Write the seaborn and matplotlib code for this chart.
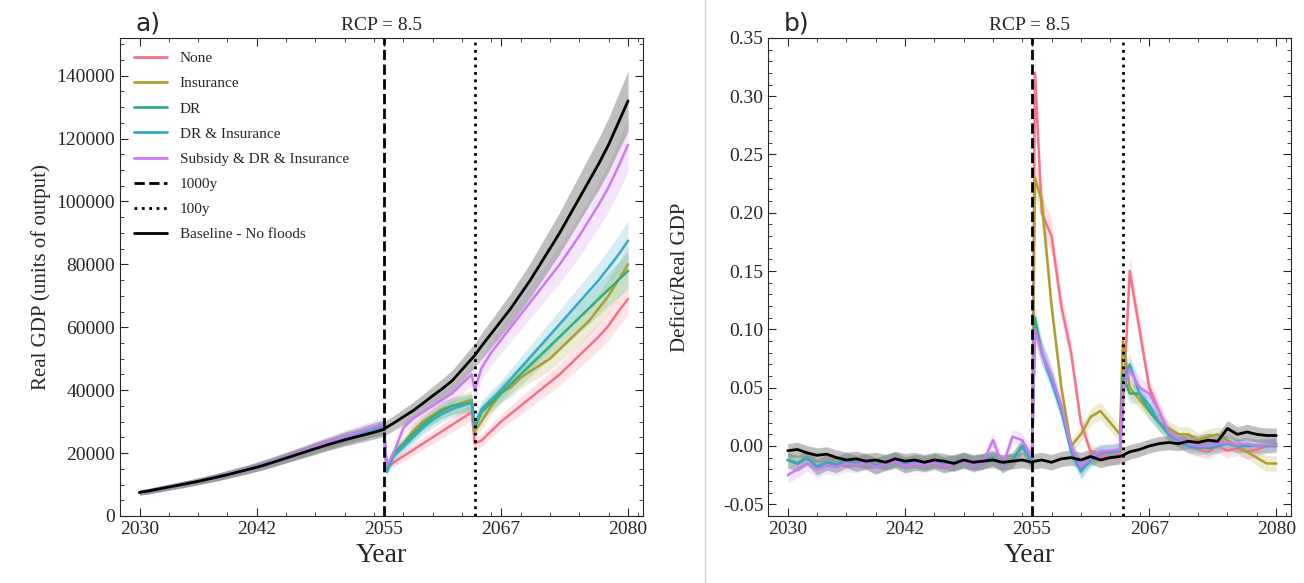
import numpy as np
import pandas as pd
import seaborn as sns
import matplotlib.pyplot as plt
from matplotlib.lines import Line2D

# time grid: yearly, with an extra point just after each flood
years = list(range(2030, 2056)) + [2055.3] + list(range(2056, 2065)) + [2064.3] + list(range(2065, 2081))

base_gdp = [7500, 8000, 8600, 9200, 9800, 10400, 11000, 11700, 12400, 13100, 13900, 14700, 15500,
            16400, 17400, 18400, 19400, 20400, 21400, 22400, 23300, 24200, 25000, 25800, 26600, 27500,
            28200, 29500, 31500, 33500, 35800, 38200, 40500, 43000, 46500, 50000, 51000,
            54000, 58000, 62000, 66000, 70500, 75000, 80000, 85000, 90000, 95500, 101000, 106500,
            112000, 118000, 125000, 132000]
pre_gdp = [7400, 7900, 8500, 9100, 9700, 10300, 11000, 11700, 12400, 13200, 14000, 14800, 15700,
           16600, 17600, 18600, 19600, 20600, 21700, 22700, 23700, 24700, 25600, 26500, 27400, 28200]
none_gdp = pre_gdp + [15000, 17000, 19000, 21000, 23000, 25000, 27000, 29000, 31000, 33000, 23000,
                      24000, 27000, 30000, 32500, 35000, 37500, 40000, 42500, 45000, 48000, 51000,
                      54000, 57000, 60500, 65000, 69000]
ins_gdp = pre_gdp + [15500, 20000, 23000, 27000, 30000, 32000, 34000, 35000, 36000, 37000, 27000,
                     30000, 35000, 39000, 41000, 44000, 46000, 48000, 50000, 53000, 56000, 59000,
                     62000, 66000, 70000, 75000, 80000]
dr_gdp = pre_gdp + [14500, 20000, 23000, 26000, 29000, 31500, 33500, 35000, 35500, 36000, 28000,
                    33000, 36000, 39000, 42000, 45000, 48000, 51000, 54000, 57000, 60000, 63000,
                    66000, 69000, 72000, 75000, 78000]
drins_gdp = pre_gdp + [14000, 19000, 22000, 25000, 28000, 30500, 32500, 34000, 35000, 36000, 29000,
                       34000, 37000, 40000, 43500, 47000, 50500, 54000, 57500, 61000, 64500, 68000,
                       71500, 75000, 79000, 83000, 87500]
sub_gdp = [7400, 7900, 8500, 9100, 9700, 10400, 11100, 11800, 12500, 13300, 14100, 14900, 15800,
           16700, 17700, 18700, 19800, 20900, 22000, 23100, 24100, 25200, 26200, 27200, 28200, 29000,
           16000, 20000, 28000, 31000, 33000, 35000, 37000, 39000, 42000, 45000, 40000,
           47000, 52000, 56000, 60000, 64000, 68000, 72000, 76000, 80000, 84500, 89000, 94000,
           99000, 104500, 111000, 118000]

pre_def = [-0.012, -0.015, -0.010, -0.018, -0.014, -0.016, -0.012, -0.015, -0.013, -0.017, -0.014,
           -0.012, -0.016, -0.014, -0.015, -0.013, -0.016, -0.014, -0.012, -0.015, -0.013, -0.010,
           -0.016, -0.012, 0.000, -0.014]
base_def = [-0.004, -0.003, -0.006, -0.008, -0.007, -0.010, -0.012, -0.011, -0.013, -0.012, -0.014,
            -0.011, -0.013, -0.012, -0.014, -0.012, -0.013, -0.015, -0.012, -0.014, -0.013, -0.012,
            -0.014, -0.013, -0.012, -0.014, -0.013, -0.012, -0.014, -0.011, -0.010, -0.012, -0.009,
            -0.012, -0.010, -0.009, -0.008, -0.005, -0.003, 0.000, 0.002, 0.003, 0.002, 0.004,
            0.003, 0.005, 0.004, 0.015, 0.010, 0.012, 0.010, 0.009, 0.009]
none_def = pre_def + [0.32, 0.20, 0.18, 0.12, 0.08, 0.02, -0.005, -0.008, -0.010, -0.008, 0.03,
                      0.15, 0.10, 0.05, 0.03, 0.01, 0.005, 0.000, -0.003, -0.005, 0.000, -0.004,
                      -0.002, -0.005, -0.003, 0.000, 0.000]
ins_def = pre_def + [0.23, 0.21, 0.12, 0.05, 0.000, 0.010, 0.025, 0.030, 0.020, 0.010, 0.09,
                     0.05, 0.04, 0.03, 0.02, 0.015, 0.010, 0.010, 0.005, 0.008, 0.010, 0.005,
                     0.000, -0.005, -0.010, -0.015, -0.015]
dr_def = pre_def + [0.11, 0.08, 0.06, 0.03, 0.000, -0.020, -0.010, -0.005, -0.005, -0.003, 0.06,
                    0.045, 0.045, 0.03, 0.02, 0.010, 0.005, 0.000, 0.000, -0.002, 0.000, 0.003,
                    0.000, 0.001, 0.000, 0.000, 0.000]
drins_def = pre_def + [0.10, 0.08, 0.055, 0.03, -0.005, -0.022, -0.012, -0.006, -0.005, -0.004, 0.055,
                       0.07, 0.045, 0.035, 0.02, 0.010, 0.005, 0.000, -0.002, 0.000, 0.000, 0.002,
                       0.000, 0.000, 0.000, 0.000, 0.002]
sub_def = [-0.025, -0.020, -0.015, -0.020, -0.017, -0.018, -0.015, -0.016, -0.014, -0.018, -0.015,
           -0.013, -0.017, -0.015, -0.016, -0.014, -0.017, -0.015, -0.013, -0.016, -0.014, 0.005,
           -0.017, 0.008, 0.005, -0.010,
           0.10, 0.08, 0.06, 0.035, 0.000, -0.018, -0.010, -0.005, -0.004, -0.003, 0.05,
           0.065, 0.05, 0.045, 0.03, 0.012, 0.006, 0.002, 0.000, 0.000, 0.002, 0.003,
           0.001, 0.002, 0.000, 0.001, 0.001]

labels = ["None", "Insurance", "DR", "DR & Insurance", "Subsidy & DR & Insurance"]
gdp_series = [none_gdp, ins_gdp, dr_gdp, drins_gdp, sub_gdp]
def_series = [none_def, ins_def, dr_def, drins_def, sub_def]

sns.set_style("ticks")
plt.rcParams['font.family'] = ['Liberation Serif', 'DejaVu Serif']
colors = sns.color_palette("husl", 5)

fig, (ax1, ax2) = plt.subplots(1, 2, figsize=(13.04, 5.83), dpi=100)
fig.subplots_adjust(left=0.092, right=0.99, top=0.935, bottom=0.115, wspace=0.24)

def draw(ax, series, base, spread, spread_abs):
    rows = []
    for lab, vals in zip(labels, series):
        for y, v in zip(years, vals):
            rows.append((y, v, lab))
    df = pd.DataFrame(rows, columns=["year", "value", "scenario"])
    sns.lineplot(data=df, x="year", y="value", hue="scenario", palette=colors,
                 ax=ax, lw=1.8, legend=False)
    for vals, c in zip(series, colors):
        v = np.array(vals)
        w = np.abs(v) * spread + spread_abs
        ax.fill_between(years, v - w, v + w, color=c, alpha=0.2, lw=0)
    b = np.array(base)
    w = np.abs(b) * spread + spread_abs
    ax.fill_between(years, b - w, b + w, color="gray", alpha=0.5, lw=0)
    ax.plot(years, base, color="black", lw=2)
    ax.axvline(2055, color="black", ls="--", lw=2)
    ax.axvline(2064.3, color="black", ls=":", lw=2)
    ax.set_xlim(2028, 2081.5)
    ax.set_xticks([2030, 2042, 2055, 2067, 2080])
    ax.set_xlabel("Year", fontsize=20)
    ax.set_title("RCP = 8.5", fontsize=14)
    ax.minorticks_on()
    ax.tick_params(which="both", direction="in", top=True, right=True, labelsize=14)
    ax.tick_params(which="major", length=6)
    ax.tick_params(which="minor", length=3)

draw(ax1, gdp_series, base_gdp, 0.07, 300)
ax1.set_ylim(0, 152000)
ax1.set_yticks(range(0, 150000, 20000))
ax1.set_ylabel("Real GDP (units of output)", fontsize=15)
handles = [Line2D([], [], color=c, lw=2) for c in colors] + [
    Line2D([], [], color="black", ls="--", lw=2),
    Line2D([], [], color="black", ls=":", lw=2),
    Line2D([], [], color="black", lw=2)]
ax1.legend(handles, labels + ["1000y", "100y", "Baseline - No floods"],
           loc="upper left", frameon=False, fontsize=11, labelspacing=0.75, handlelength=2.2)
ax1.text(0.03, 1.015, "a)", transform=ax1.transAxes, fontsize=18, family="DejaVu Sans")

draw(ax2, def_series, base_def, 0.05, 0.006)
ax2.set_ylim(-0.06, 0.35)
ax2.set_yticks(np.arange(-0.05, 0.351, 0.05))
ax2.yaxis.set_major_formatter(plt.FormatStrFormatter("%.2f"))
ax2.set_ylabel("Deficit/Real GDP", fontsize=15)
ax2.yaxis.set_label_coords(-0.15, 0.5)
ax2.text(0.03, 1.015, "b)", transform=ax2.transAxes, fontsize=18, family="DejaVu Sans")

fig.add_artist(Line2D([0.541, 0.541], [0.0, 1.0], color="lightgray", lw=1))
fig.savefig("out.png", dpi=100)
